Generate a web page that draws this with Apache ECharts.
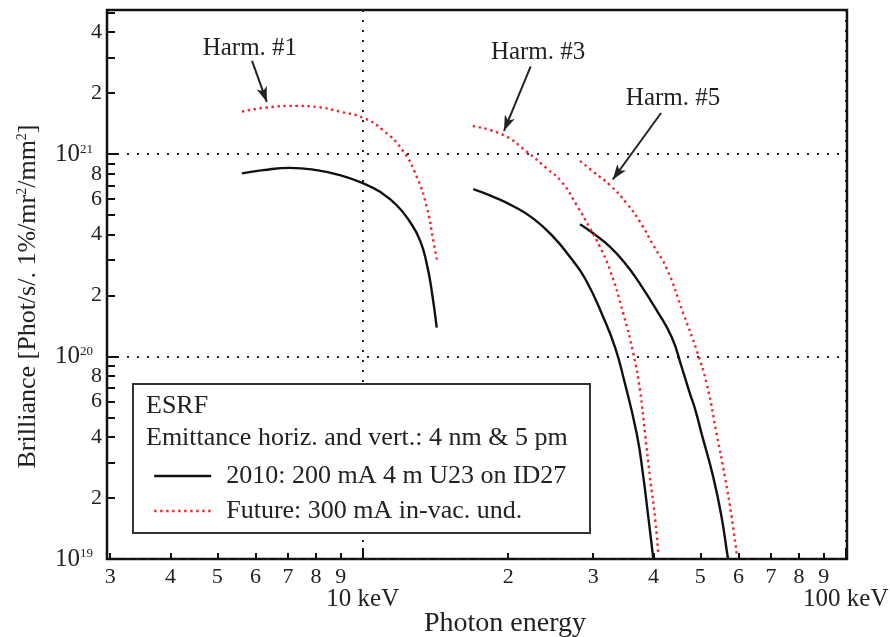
<!DOCTYPE html>
<html>
<head>
<meta charset="utf-8">
<script src="https://cdn.jsdelivr.net/npm/echarts@6/dist/echarts.min.js"></script>
<style>html,body{margin:0;padding:0;background:#fff}#c{width:890px;height:637px}</style>
</head>
<body>
<div id="c"></div>
<script>
// ---- data ----
const name2010 = '2010: 200 mA 4 m U23 on ID27';
const nameFuture = 'Future: 300 mA in-vac. und.';

const h1Energy2010 = [5.62, 6.22, 7.07, 8.03, 8.97, 10.03, 10.86, 11.76, 12.53, 13.14, 13.57, 13.89, 14.23];
const h1Bril2010 = [8.03e20, 8.33e20, 8.55e20, 8.33e20, 7.87e20, 7.16e20, 6.51e20, 5.59e20, 4.62e20, 3.75e20, 2.87e20, 2.12e20, 1.39e20];
const h3Energy2010 = [16.94, 18.64, 20.50, 22.56, 24.81, 26.87, 28.86, 31.48, 33.30, 34.64, 36.93, 38.11, 39.03, 39.97];
const h3Bril2010 = [6.71e20, 6.15e20, 5.53e20, 4.80e20, 3.90e20, 3.10e20, 2.43e20, 1.565e20, 1.11e20, 7.90e19, 4.14e19, 2.53e19, 1.60e19, 1.0e19];
const h5Energy2010 = [28.18, 30.03, 32.51, 35.21, 37.20, 40.62, 43.63, 45.76, 47.60, 48.75, 50.33, 53.19, 55.36, 56.86, 57.10];
const h5Bril2010 = [4.50e20, 4.05e20, 3.48e20, 2.82e20, 2.35e20, 1.69e20, 1.246e20, 8.85e19, 6.54e19, 5.51e19, 4.14e19, 2.53e19, 1.60e19, 1.055e19, 1.0e19];

const h1EnergyFuture = [5.62, 6.33, 7.30, 8.03, 8.97, 10.03, 11.03, 12.14, 12.94, 13.57, 14.00, 14.27];
const h1BrilFuture = [1.62e21, 1.70e21, 1.73e21, 1.71e21, 1.62e21, 1.51e21, 1.31e21, 1.03e21, 7.72e20, 5.48e20, 3.75e20, 2.93e20];
const h3EnergyFuture = [16.90, 19.55, 21.86, 24.04, 25.82, 27.74, 29.56, 30.99, 32.51, 34.64, 36.34, 37.51, 38.42, 39.34, 40.29, 40.93];
const h3BrilFuture = [1.376e21, 1.242e21, 1.027e21, 8.50e20, 7.29e20, 5.59e20, 4.29e20, 3.48e20, 2.67e20, 1.63e20, 1.031e20, 6.79e19, 4.14e19, 2.53e19, 1.60e19, 1.055e19];
const h5EnergyFuture = [28.18, 30.03, 32.51, 35.21, 37.51, 39.97, 42.60, 46.11, 49.15, 51.54, 54.06, 56.24, 58.08, 59.48];
const h5BrilFuture = [9.26e20, 8.17e20, 7.02e20, 5.70e20, 4.62e20, 3.54e20, 2.72e20, 1.63e20, 1.07e20, 7.33e19, 4.14e19, 2.53e19, 1.60e19, 1.055e19];

// annotation labels with arrow start/end (data coordinates: keV, brilliance)
const annoText = ['Harm. #1', 'Harm. #3', 'Harm. #5'];
const annoTextAt = [[5.84, 3.33e21], [23.07, 3.18e21], [43.9, 1.88e21]];
const annoFrom = [[5.90, 2.89e21], [22.27, 2.71e21], [41.46, 1.596e21]];
const annoTo = [[6.33, 1.81e21], [19.61, 1.304e21], [32.94, 7.49e20]];

// tick values & labels
const xMinorTicks = [3, 4, 5, 6, 7, 8, 9, 20, 30, 40, 50, 60, 70, 80, 90];
const xMinorLabels = ['3', '4', '5', '6', '7', '8', '9', '2', '3', '4', '5', '6', '7', '8', '9'];
const xMajorTicks = [10, 100];
const xMajorLabels = ['10 keV', '100 keV'];
const yMinorTicks = [2e19, 3e19, 4e19, 5e19, 6e19, 7e19, 8e19, 9e19,
                     2e20, 3e20, 4e20, 5e20, 6e20, 7e20, 8e20, 9e20,
                     2e21, 3e21, 4e21, 5e21];
const yMinorLabelValues = [2e19, 4e19, 6e19, 8e19, 2e20, 4e20, 6e20, 8e20, 2e21, 4e21];
const yMinorLabels = ['2', '4', '6', '8', '2', '4', '6', '8', '2', '4'];
const yMajorTicks = [1e19, 1e20, 1e21];
const yMajorLabels = ['{b|10}{s|19}', '{b|10}{s|20}', '{b|10}{s|21}'];

// ---- chart ----
const FONT = '"Liberation Serif", "Times New Roman", serif';
const TXT = '#222';
function pairs(xs, ys) { return xs.map((x, i) => [x, ys[i]]); }
function lookup(vals, labels) {
  return function (v) {
    const i = vals.findIndex(t => Math.abs(t - v) / t < 1e-6);
    return i < 0 ? '' : labels[i];
  };
}

const X_MIN = 2.955, X_MAX = 100.6, Y_MIN = 1e19, Y_MAX = 5.15e21;

const blackStyle = { color: '#111', width: 2.4, type: 'solid' };
const redStyle = { color: '#ee2630', width: 2.4, type: [2.4, 3.6] };

function curve(name, xs, ys, style, extra) {
  return Object.assign({
    type: 'line', name: name, xAxisIndex: 0, yAxisIndex: 0,
    data: pairs(xs, ys), showSymbol: false, symbol: 'none', smooth: 0.5,
    lineStyle: style, itemStyle: { color: style.color }, z: 3,
    emphasis: { disabled: true }, silent: true
  }, extra || {});
}

const chart = echarts.init(document.getElementById('c'), null, { renderer: 'canvas' });

const option = {
  animation: false,
  backgroundColor: '#fff',
  textStyle: { fontFamily: FONT, color: TXT },
  grid: { left: 107, top: 10, right: 43, bottom: 78, show: true, borderColor: '#111', borderWidth: 2.5,
          backgroundColor: 'transparent', containLabel: false, outerBoundsMode: 'none' },
  xAxis: [
    {
      type: 'log', logBase: 10, min: X_MIN, max: X_MAX, position: 'bottom',
      axisLine: { show: false },
      axisTick: { show: true, inside: true, length: 6, customValues: xMinorTicks, lineStyle: { color: '#111', width: 2 } },
      axisLabel: { show: true, customValues: xMinorTicks, formatter: lookup(xMinorTicks, xMinorLabels), fontFamily: FONT, fontSize: 22, color: TXT, margin: 7 },
      splitLine: { show: false }, minorTick: { show: false },
      name: 'Photon energy', nameLocation: 'middle', nameGap: 51,
      nameTextStyle: { fontFamily: FONT, fontSize: 28, color: TXT, padding: [0, 0, 0, 56] }
    },
    {
      type: 'log', logBase: 10, min: X_MIN, max: X_MAX, position: 'bottom',
      axisLine: { show: false },
      axisTick: { show: true, inside: true, length: 11, customValues: xMajorTicks, lineStyle: { color: '#111', width: 2 } },
      axisLabel: { show: true, customValues: xMajorTicks, formatter: lookup(xMajorTicks, xMajorLabels), fontFamily: FONT, fontSize: 25, color: TXT, margin: 28 },
      splitLine: { show: true, lineStyle: { color: '#222', width: 2, type: [2, 8] } }
    }
  ],
  yAxis: [
    {
      type: 'log', logBase: 10, min: Y_MIN, max: Y_MAX, position: 'left',
      axisLine: { show: false },
      axisTick: { show: true, inside: true, length: 8, customValues: yMinorTicks, lineStyle: { color: '#111', width: 2 } },
      axisLabel: { show: true, customValues: yMinorLabelValues, formatter: lookup(yMinorLabelValues, yMinorLabels), fontFamily: FONT, fontSize: 22, color: TXT, margin: 5 },
      splitLine: { show: false },
      name: 'Brilliance [Phot/s/. 1%/mr{s|2}/mm{s|2}]', nameLocation: 'middle', nameGap: 66, nameRotate: 90,
      nameTextStyle: { fontFamily: FONT, fontSize: 26, color: TXT, padding: [0, 24, 0, 0],
        rich: { s: { fontFamily: FONT, fontSize: 14, color: TXT, verticalAlign: 'top', padding: [0, 0, 8, 0] } } }
    },
    {
      type: 'log', logBase: 10, min: Y_MIN, max: Y_MAX, position: 'left',
      axisLine: { show: false },
      axisTick: { show: true, inside: true, length: 12, customValues: yMajorTicks, lineStyle: { color: '#111', width: 2 } },
      axisLabel: { show: true, customValues: yMajorTicks, formatter: lookup(yMajorTicks, yMajorLabels), margin: 14,
        rich: { b: { fontFamily: FONT, fontSize: 25, color: TXT }, s: { fontFamily: FONT, fontSize: 13, color: TXT, padding: [0, 0, 10, 0] } } },
      splitLine: { show: true, lineStyle: { color: '#222', width: 2, type: [2, 8] } }
    }
  ],
  legend: {
    show: true, orient: 'vertical', left: 153, top: 463, itemWidth: 57, itemHeight: 14, itemGap: 9, z: 20,
    selectedMode: false, padding: 0,
    itemStyle: { opacity: 0 },
    textStyle: { fontFamily: FONT, fontSize: 26, lineHeight: 26, color: TXT, padding: [0, 0, 0, 10] },
    data: [
      { name: name2010, lineStyle: blackStyle },
      { name: nameFuture, lineStyle: redStyle }
    ]
  },
  graphic: [
    { type: 'rect', z: 15, shape: { x: 133, y: 384, width: 457, height: 149 }, style: { fill: '#fff', stroke: '#333', lineWidth: 2 } },
    { type: 'text', z: 16, x: 146, y: 406, style: { text: 'ESRF', font: '26px ' + FONT, fill: TXT, verticalAlign: 'middle' } },
    { type: 'text', z: 16, x: 146, y: 438, style: { text: 'Emittance horiz. and vert.: 4 nm & 5 pm', font: '26px ' + FONT, fill: TXT, verticalAlign: 'middle' } }
  ],
  series: [
    curve(name2010, h1Energy2010, h1Bril2010, blackStyle),
    curve(name2010, h3Energy2010, h3Bril2010, blackStyle),
    curve(name2010, h5Energy2010, h5Bril2010, blackStyle),
    curve(nameFuture, h1EnergyFuture, h1BrilFuture, redStyle, {
      markLine: {
        silent: true, animation: false, label: { show: false }, emphasis: { disabled: true },
        lineStyle: { color: '#222', width: 2, type: 'solid' },
        data: annoFrom.map((f, i) => [
          { coord: f, symbol: 'none' },
          { coord: annoTo[i], symbol: 'arrow', symbolSize: [8, 15] }
        ])
      },
      markPoint: {
        silent: true, animation: false,
        data: annoText.map((t, i) => ({
          coord: annoTextAt[i], symbol: 'circle', symbolSize: 0,
          label: { show: true, position: 'inside', formatter: t, fontFamily: FONT, fontSize: 25, color: TXT }
        }))
      }
    }),
    curve(nameFuture, h3EnergyFuture, h3BrilFuture, redStyle),
    curve(nameFuture, h5EnergyFuture, h5BrilFuture, redStyle)
  ]
};
chart.setOption(option);
</script>
</body>
</html>
